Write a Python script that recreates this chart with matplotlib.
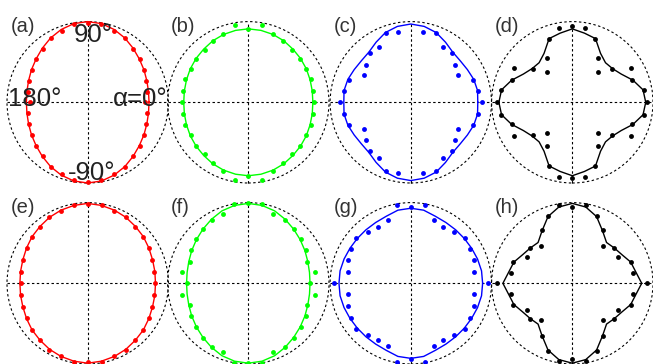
import numpy as np
import matplotlib.pyplot as plt
from matplotlib.patches import Circle

plt.rcParams['font.family'] = ['Liberation Sans', 'DejaVu Sans']

# angles of one quadrant, the plots are mirror symmetric
quad_deg = [0, 10, 20, 30, 40, 50, 60, 70, 80, 90]

panel_names = ['(a)', '(b)', '(c)', '(d)', '(e)', '(f)', '(g)', '(h)']
panel_colors = ['#ff0000', '#00ff00', '#0000ff', 'black',
                '#ff0000', '#00ff00', '#0000ff', 'black']

# measured points (r normalised to outer circle)
pts_a = [0.71, 0.75, 0.77, 0.80, 0.84, 0.87, 0.92, 0.94, 0.98, 0.985]
pts_b = [0.82, 0.82, 0.83, 0.82, 0.84, 0.84, 0.87, 0.90, 0.975, 0.91]
pts_c = [0.88, 0.84, 0.82, 0.67, 0.72, 0.79, 0.79, 0.91, 0.89, np.nan]
pts_d = [0.93, 0.90, 0.79, 0.84, 0.64, 0.49, 0.63, 0.84, 0.94, 0.94]
pts_e = [0.83, 0.84, 0.85, 0.87, 0.90, 0.91, 0.95, 0.96, 0.99, 0.98]
pts_f = [0.76, 0.84, 0.77, 0.82, 0.85, 0.88, 0.91, 0.91, 1.00, 0.99]
pts_g = [0.955, 0.79, 0.83, 0.85, 0.88, 0.83, 0.81, 0.83, 0.99, 0.94]
pts_h = [0.93, 0.77, 0.78, 0.65, 0.68, 0.60, 0.76, 0.89, 0.98, 0.94]

# fitted curves
fit_a = [0.76, 0.765, 0.78, 0.805, 0.835, 0.875, 0.92, 0.96, 0.99, 1.0]
fit_b = [0.80, 0.805, 0.815, 0.83, 0.845, 0.86, 0.88, 0.895, 0.905, 0.91]
fit_c = [0.83, 0.84, 0.83, 0.81, 0.80, 0.81, 0.86, 0.92, 0.955, 0.97]
fit_d = [0.91, 0.89, 0.80, 0.70, 0.65, 0.64, 0.70, 0.84, 0.87, 0.91]
fit_e = [0.84, 0.845, 0.855, 0.875, 0.90, 0.92, 0.945, 0.965, 0.98, 0.99]
fit_f = [0.765, 0.77, 0.785, 0.81, 0.84, 0.875, 0.915, 0.955, 0.98, 0.99]
fit_g = [0.89, 0.89, 0.88, 0.87, 0.865, 0.865, 0.87, 0.885, 0.92, 0.93]
fit_h = [0.86, 0.80, 0.77, 0.71, 0.68, 0.66, 0.75, 0.88, 0.96, 0.99]

all_pts = [pts_a, pts_b, pts_c, pts_d, pts_e, pts_f, pts_g, pts_h]
all_fit = [fit_a, fit_b, fit_c, fit_d, fit_e, fit_f, fit_g, fit_h]


def full_circle(q):
    # mirror quadrant 0..90 to 0..350
    half = list(q) + list(q[-2:0:-1])
    r = np.array(half + half, dtype=float)
    th = np.deg2rad(np.arange(0, 360, 10))
    return r * np.cos(th), r * np.sin(th)


W, H = 653, 364
fig = plt.figure(figsize=(W / 100, H / 100), dpi=100)

col_x = [87.7, 248.3, 410.8, 572.3]
row_y = [102.3, 283.3]
scale = 80.7
lim = 1.1
box = 2 * lim * scale

for i in range(8):
    cx = col_x[i % 4]
    cy = row_y[i // 4]
    ax = fig.add_axes([(cx - box / 2) / W, 1 - (cy + box / 2) / H, box / W, box / H])
    ax.set_xlim(-lim, lim)
    ax.set_ylim(-lim, lim)
    ax.axis('off')

    ls = (0, (2.2, 2.2))
    ax.add_patch(Circle((0, 0), 1.0, fill=False, ec='black', lw=0.8, ls=ls, clip_on=False))
    ax.plot([-1, 1], [0, 0], color='black', lw=0.8, ls=ls, clip_on=False)
    ax.plot([0, 0], [-1, 1], color='black', lw=0.8, ls=ls, clip_on=False)

    fx, fy = full_circle(all_fit[i])
    ax.plot(np.append(fx, fx[0]), np.append(fy, fy[0]), color=panel_colors[i], lw=1.0, clip_on=False)
    px, py = full_circle(all_pts[i])
    ax.plot(px, py, 'o', color=panel_colors[i], ms=3.5, mew=0, clip_on=False)

    ax.text(-0.955, 0.935, panel_names[i], ha='left', va='center', fontsize=14.5, color='#333333')

    if i == 0:
        fs = 18.5
        ax.text(0.07, 0.84, '90°', ha='center', va='center', fontsize=fs, color='#222222')
        ax.text(0.05, -0.88, '-90°', ha='center', va='center', fontsize=fs, color='#222222')
        ax.text(-0.99, 0.04, '180°', ha='left', va='center', fontsize=fs, color='#222222')
        ax.text(0.995, 0.04, 'α=0°', ha='right', va='center', fontsize=fs, color='#222222')

fig.savefig('out.png', dpi=100)
